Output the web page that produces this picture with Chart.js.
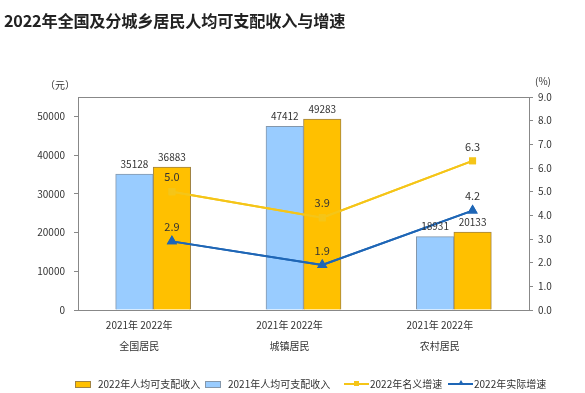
<!DOCTYPE html>
<html>
<head>
<meta charset="utf-8">
<script src="https://cdn.jsdelivr.net/npm/chart.js@4.4.0/dist/chart.umd.min.js"></script>
<style>
	body { margin: 0; background: #fff; font-family: "Noto Sans CJK SC", sans-serif; }
	#wrap { position: relative; width: 585px; height: 393px; }
	#title { position: absolute; left: 4px; top: 8px; font-size: 16.2px; font-weight: bold; color: #222; letter-spacing: -0.2px; }
	#legend { position: absolute; left: 0; top: 376px; width: 585px; height: 16px; font-size: 10px; color: #333; }
	.item { position: absolute; top: 0; line-height: 16px; white-space: nowrap; }
	.box { position: absolute; top: 5px; width: 14px; height: 5px; border: 1px solid; }
	.ln { position: absolute; top: 7px; width: 25px; height: 2px; }
	.mk { position: absolute; top: 5px; left: 10px; width: 5px; height: 5px; }
</style>
</head>
<body>
<div id="wrap">
	<div id="title">2022年全国及分城乡居民人均可支配收入与增速</div>
	<canvas id="chart" width="585" height="393"></canvas>
	<div id="legend"></div>
</div>
<script>
// DATA =====================================================

const categories = ["全国居民", "城镇居民", "农村居民"];
const yearLabel = "2021年 2022年";
const income2021 = [35128, 47412, 18931];
const income2022 = [36883, 49283, 20133];
const nominalGrowth = [5.0, 3.9, 6.3];
const realGrowth = [2.9, 1.9, 4.2];
const incomeTicks = [0, 10000, 20000, 30000, 40000, 50000];
const growthTicks = [0, 1, 2, 3, 4, 5, 6, 7, 8, 9];

// STYLE ====================================================

const blueFill = "#99CCFF";
const blueEdge = "#8497AB";
const orangeFill = "#FFC000";
const orangeEdge = "#A08343";
const yellowLine = "#F5C518";
const blueLine = "#1E66B6";
const axisColor = "#888";
const textColor = "#333";
const font = "'Noto Sans CJK SC', sans-serif";
const barWidth = 37.5;

// PLUGINS ==================================================

// move the line points over the 2022 bar, like the original
const shiftLines = {
	id: "shiftLines",
	afterDatasetsUpdate(chart) {
		chart.data.datasets.forEach((ds, i) => {
			if (ds.type !== "line") return;
			const meta = chart.getDatasetMeta(i);
			meta.data.forEach((pt) => { pt.x += barWidth / 2; });
		});
	},
};

const valueLabels = {
	id: "valueLabels",
	afterDatasetsDraw(chart) {
		const ctx = chart.ctx;
		// lines always on top of the bars
		chart.data.datasets.forEach((ds, i) => {
			if (ds.type === "line") chart.getDatasetMeta(i).controller.draw();
		});
		ctx.save();
		ctx.fillStyle = textColor;
		ctx.textAlign = "center";
		ctx.textBaseline = "middle";
		chart.data.datasets.forEach((ds, i) => {
			const meta = chart.getDatasetMeta(i);
			meta.data.forEach((el, j) => {
				if (ds.type === "line") {
					ctx.font = "11px " + font;
					ctx.fillText(ds.data[j].toFixed(1), el.x, el.y - 14.5);
				} else {
					ctx.font = "10px " + font;
					ctx.fillText(String(ds.data[j]), el.x, el.y - 10);
				}
			});
		});
		ctx.restore();
	},
};

const frame = {
	id: "frame",
	beforeDatasetsDraw(chart) {
		const a = chart.chartArea;
		const ctx = chart.ctx;
		ctx.save();
		ctx.strokeStyle = axisColor;
		ctx.lineWidth = 1;
		ctx.beginPath();
		ctx.moveTo(a.left, a.top + 0.5);
		ctx.lineTo(a.right, a.top + 0.5);
		ctx.stroke();
		ctx.font = "10px " + font;
		ctx.fillStyle = textColor;
		ctx.textBaseline = "middle";
		ctx.textAlign = "right";
		ctx.fillText("（元）", a.left - 3, a.top - 12);
		ctx.textAlign = "left";
		ctx.fillText("(%)", a.right + 6, a.top - 16);
		ctx.restore();
	},
};

// CHART ====================================================

const config = {
	type: "bar",
	data: {
		labels: categories.map((c) => [yearLabel, c]),
		datasets: [
			{
				type: "bar",
				label: "2021年人均可支配收入",
				data: income2021,
				yAxisID: "y",
				backgroundColor: blueFill,
				borderColor: blueEdge,
				borderWidth: 1,
				barThickness: barWidth,
				order: 2,
			},
			{
				type: "bar",
				label: "2022年人均可支配收入",
				data: income2022,
				yAxisID: "y",
				backgroundColor: orangeFill,
				borderColor: orangeEdge,
				borderWidth: 1,
				barThickness: barWidth,
				order: 2,
			},
			{
				type: "line",
				label: "2022年名义增速",
				data: nominalGrowth,
				yAxisID: "y1",
				borderColor: yellowLine,
				backgroundColor: yellowLine,
				borderWidth: 2,
				pointStyle: "rect",
				pointRadius: 3.5,
				order: 1,
			},
			{
				type: "line",
				label: "2022年实际增速",
				data: realGrowth,
				yAxisID: "y1",
				borderColor: blueLine,
				backgroundColor: blueLine,
				borderWidth: 2,
				pointStyle: "triangle",
				pointRadius: 4,
				order: 1,
			},
		],
	},
	options: {
		responsive: false,
		animation: false,
		layout: { padding: { top: 97, bottom: 32, left: 0, right: 0 } },
		plugins: { legend: { display: false }, tooltip: { enabled: false } },
		scales: {
			x: {
				offset: true,
				grid: { display: false, drawTicks: false },
				border: { color: axisColor },
				ticks: { color: textColor, font: { size: 10, family: font, lineHeight: 2.15 }, padding: 4, labelOffset: -14, maxRotation: 0, autoSkip: false },
				afterFit: (scale) => { scale.height = 51; },
			},
			y: {
				position: "left",
				min: 0,
				max: 55000,
				afterBuildTicks: (scale) => { scale.ticks = incomeTicks.map((v) => ({ value: v })); },
				grid: { display: true, drawOnChartArea: false, tickLength: 4, color: axisColor },
				border: { color: axisColor },
				ticks: { color: textColor, font: { size: 10, family: font }, padding: 9, callback: (v) => String(v) },
				afterFit: (scale) => { scale.width = 78; },
			},
			y1: {
				position: "right",
				min: 0,
				max: 9,
				afterBuildTicks: (scale) => { scale.ticks = growthTicks.map((v) => ({ value: v })); },
				grid: { display: true, drawOnChartArea: false, tickLength: 4, color: axisColor },
				border: { color: axisColor },
				ticks: { color: textColor, font: { size: 10, family: font }, padding: 5, callback: (v) => v.toFixed(1) },
				afterFit: (scale) => { scale.width = 56; },
			},
		},
	},
	plugins: [shiftLines, valueLabels, frame],
};

new Chart(document.getElementById("chart"), config);

// LEGEND ===================================================

const legendItems = [
	{ kind: "box", fill: orangeFill, edge: orangeEdge, text: "2022年人均可支配收入", x: 75 },
	{ kind: "box", fill: blueFill, edge: blueEdge, text: "2021年人均可支配收入", x: 205 },
	{ kind: "line", fill: yellowLine, text: "2022年名义增速", x: 344, marker: "rect" },
	{ kind: "line", fill: blueLine, text: "2022年实际增速", x: 448, marker: "tri" },
];

legendItems.forEach((it) => {
	let sym;
	let textX;
	if (it.kind === "box") {
		sym = `<span class="box" style="left:0;background:${it.fill};border-color:${it.edge}"></span>`;
		textX = 23;
	} else {
		const mk = it.marker === "rect"
			? `<span class="mk" style="background:${it.fill}"></span>`
			: `<span class="mk" style="width:0;height:0;border-left:3px solid transparent;border-right:3px solid transparent;border-bottom:5px solid ${it.fill};top:4px"></span>`;
		sym = `<span class="ln" style="left:0;background:${it.fill}"></span>${mk}`;
		textX = 26;
	}
	document.querySelector("#legend").insertAdjacentHTML(
		"beforeend",
		`<div class="item" style="left:${it.x}px">${sym}<span style="position:absolute;left:${textX}px">${it.text}</span></div>`
	);
});

// END ======================================================
</script>
</body>
</html>
